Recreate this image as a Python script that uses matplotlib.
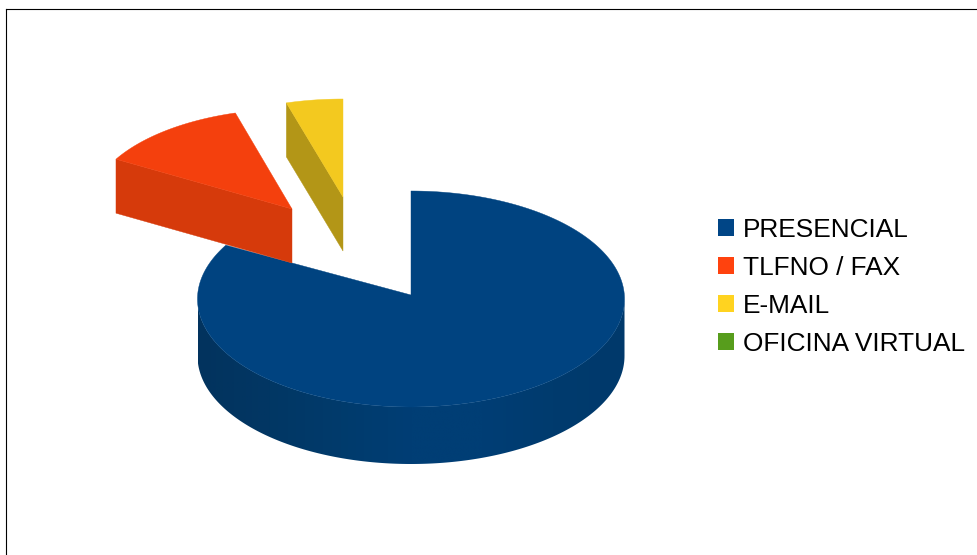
import numpy as np
import matplotlib
matplotlib.use('Agg')
import matplotlib.pyplot as plt
from matplotlib.patches import Polygon, Patch
from matplotlib.colors import LinearSegmentedColormap

plt.rcParams['font.family'] = ['Liberation Sans', 'DejaVu Sans']

# Data
categories = ['PRESENCIAL', 'TLFNO / FAX', 'E-MAIL', 'OFICINA VIRTUAL']
values = [83.3, 12.2, 4.5, 0]

# Colours
legend_colors = ['#004586', '#ff420e', '#ffd320', '#579d1c']
top_colors = ['#004380', '#f4400d', '#f3c91f', '#579d1c']
side_colors = ['#003e75', '#d63a0b', '#b39617', '#4a8518']

# Pie geometry in pixels, one entry per slice
apex_x = [411, 292, 343, 411]
apex_y = [295, 209, 197, 295]
rim_shift = [4, 0, 0, 0]
radius_x = [213.5, 203, 203, 213.5]
radius_y = [108, 100, 98, 108]
depth = [57, 54, 54, 57]

# shading of the front wall of the big slice, left to right
wall_cmap = LinearSegmentedColormap.from_list(
    'wall', ['#02335e', '#023764', '#013b6c', '#003e75', '#003e75', '#003b6e', '#00396b'])


def rim(theta, i):
    # theta in degrees, clockwise from 12 o'clock
    t = np.radians(theta)
    x = apex_x[i] + radius_x[i] * np.sin(t)
    y = apex_y[i] + rim_shift[i] - radius_y[i] * np.cos(t)
    return x, y


fig = plt.figure(figsize=(9.78, 5.55), dpi=100)
ax = fig.add_axes([6 / 978, 0, 972 / 978, 546 / 555])
ax.set_xticks([])
ax.set_yticks([])
ax.spines['right'].set_visible(False)
ax.spines['bottom'].set_visible(False)

angles = np.cumsum([0] + values) / sum(values) * 360

for i in range(len(categories)):
    if values[i] == 0:
        continue
    start, end = angles[i], angles[i + 1]
    cx, cy = apex_x[i], apex_y[i]
    z = 2 + i * 2

    # wall: the front arc for the big slice, the cut face for the exploded ones
    if i == 0:
        front = np.linspace(90, 270, 200)
        fx, fy = rim(front, i)
        pts = np.column_stack([np.r_[fx, fx[::-1]], np.r_[fy, fy[::-1] + depth[i]]])
        wall = Polygon(pts, closed=True, facecolor='none', edgecolor='none',
                       transform=ax.transData)
        ax.add_patch(wall)
        img = ax.imshow(np.linspace(0, 1, 256).reshape(1, -1), cmap=wall_cmap,
                        extent=(fx.min(), fx.max(), fy.max() + depth[i], fy.min()),
                        aspect='auto', zorder=z)
        img.set_clip_path(wall)
    else:
        ex, ey = rim(np.array([start]), i)
        ax.add_patch(Polygon([(ex[0], ey[0]), (cx, cy), (cx, cy + depth[i]),
                              (ex[0], ey[0] + depth[i])], closed=True,
                             facecolor=side_colors[i], edgecolor=side_colors[i],
                             linewidth=0.3, zorder=z))

    # top face
    tx, ty = rim(np.linspace(start, end, 300), i)
    pts = np.column_stack([np.r_[cx, tx], np.r_[cy, ty]])
    ax.add_patch(Polygon(pts, closed=True, facecolor=top_colors[i],
                         edgecolor=top_colors[i], linewidth=0.3, zorder=z + 1))

ax.set_xlim(6, 978)
ax.set_ylim(555, 9)

handles = [Patch(facecolor=c, edgecolor='none') for c in legend_colors]
ax.legend(handles, categories, loc='center left',
          bbox_to_anchor=(718, 287), bbox_transform=ax.transData,
          frameon=False, fontsize=18.9, handlelength=0.62, handleheight=0.62,
          handletextpad=0.33, labelspacing=0.53, borderpad=0, borderaxespad=0,
          labelcolor='#000000')

fig.savefig('out.png', dpi=100)
